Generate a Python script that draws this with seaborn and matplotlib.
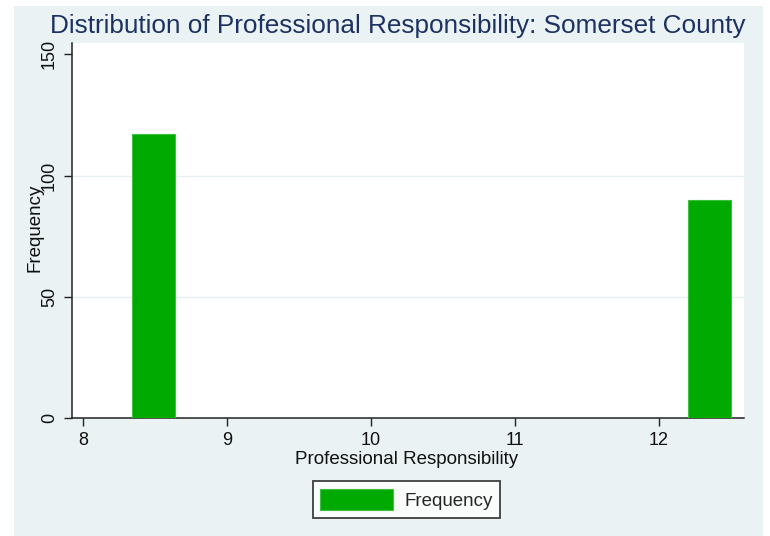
import numpy as np
import matplotlib
matplotlib.use("Agg")
import matplotlib.pyplot as plt
from matplotlib.patches import Rectangle
import seaborn as sns
import pandas as pd

# Histogram data: score bins and their counts
scores = [8.49, 12.35]
counts = [117, 90]
x_ticks = [8, 9, 10, 11, 12]
y_ticks = [0, 50, 100, 150]

title = "Distribution of Professional Responsibility: Somerset County"
x_label = "Professional Responsibility"
y_label = "Frequency"

BG = "#EAF2F3"
GREEN = "#00AA00"
NAVY = "#1E3262"

sns.set_theme(style="white")
plt.rcParams["font.family"] = ["Liberation Sans", "DejaVu Sans"]

df = pd.DataFrame({"score": scores, "count": counts})

W, H = 770, 536
fig = plt.figure(figsize=(W / 100, H / 100), dpi=100, facecolor="white")
# light graph-region backdrop, kept behind the axes
fig.patches.append(Rectangle((14 / W, 0), (763 - 14) / W, (536 - 6) / H,
                             transform=fig.transFigure, facecolor=BG,
                             edgecolor="none", zorder=-10))

left, right, top, bottom = 72, 744, 43, 418
ax = fig.add_axes([left / W, 1 - bottom / H, (right - left) / W, (bottom - top) / H])
ax.set_facecolor("white")

bin_lo, bin_hi, n_bins = 8.34, 12.50, 14
sns.histplot(data=df, x="score", weights="count",
             binwidth=(bin_hi - bin_lo) / n_bins, binrange=(bin_lo, bin_hi), ax=ax,
             color=GREEN, alpha=1, edgecolor="#3CBF3C", linewidth=0.8,
             label="Frequency", zorder=3)

ax.set_xlim(7.924, 12.59)
ax.set_ylim(0, 154.7)
for v in y_ticks[1:-1]:
    ax.axhline(v, color="#E6EFF1", linewidth=1.0, zorder=1)

ax.set_xticks(x_ticks)
ax.set_xticklabels([str(t) for t in x_ticks], fontsize=13, color="#111111")
ax.set_yticks(y_ticks)
ax.set_yticklabels([str(t) for t in y_ticks], fontsize=13, color="#111111",
                   rotation=90, va="center")
ax.tick_params(axis="both", direction="out", length=6, width=1.0, color="#222222",
               bottom=True, left=True)
ax.tick_params(axis="x", pad=4)
ax.tick_params(axis="y", pad=4)

for s in ["top", "right"]:
    ax.spines[s].set_visible(False)
for s in ["left", "bottom"]:
    ax.spines[s].set_color("#222222")
    ax.spines[s].set_linewidth(1.1)

ax.set_xlabel(x_label, fontsize=13.5, color="#111111")
ax.set_ylabel(y_label, fontsize=13.5, color="#111111")
ax.xaxis.set_label_coords((407 - left) / (right - left), 1 - (460 - top) / (bottom - top))
ax.yaxis.set_label_coords((35 - left) / (right - left), (bottom - 228) / (bottom - top))
ax.xaxis.label.set_va("center")
ax.yaxis.label.set_va("center")

fig.text(50 / W, 1 - 33 / H, title, fontsize=18.8, color=NAVY,
         ha="left", va="baseline")

handles, labels = ax.get_legend_handles_labels()
leg = fig.legend(handles[:1], labels[:1], loc="center",
                 bbox_to_anchor=(406.5 / W, 1 - 499.5 / H),
                 fontsize=13.5, frameon=True, fancybox=False,
                 handlelength=3.9, handleheight=1.4, handletextpad=0.6,
                 borderpad=0.4)
leg.get_frame().set_edgecolor("#111111")
leg.get_frame().set_linewidth(1.3)
leg.get_frame().set_facecolor("white")

fig.savefig("out.png", dpi=100, facecolor="white")
